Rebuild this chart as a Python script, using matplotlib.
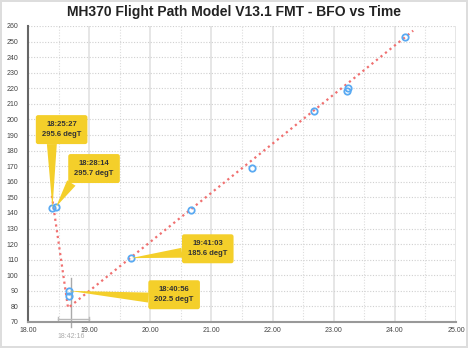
import numpy as np
import matplotlib.pyplot as plt

plt.rcParams["font.family"] = ["Liberation Sans", "DejaVu Sans"]

# BFO observations (hours UTC past midnight of day 1, Hz)
bfo_time = [18.40, 18.46, 18.675, 18.665, 19.684, 20.66, 21.67, 22.67, 23.23, 23.225, 24.17]
bfo_value = [143, 144, 90, 87, 111, 142, 169, 205.5, 220, 218, 253]

# FMT model trend line
model_time = [18.39, 18.655, 24.30]
model_bfo = [151, 79, 257]

# 18:42:16 marker
marker_time = 18.70
marker_label = "18:42:16"
marker_span = [18.49, 19.0]

# callouts: (text, point x, point y, box x, box y, relpos)
callouts = [
    ("18:25:27\n295.6 degT", 18.40, 143, 18.55, 193.5, (0.25, 0.05)),
    ("18:28:14\n295.7 degT", 18.46, 144, 19.08, 168.5, (0.05, 0.1)),
    ("19:41:03\n185.6 degT", 19.684, 111, 20.94, 117, (0.0, 0.3)),
    ("18:40:56\n202.5 degT", 18.675, 90, 20.39, 87.5, (0.0, 0.3)),
]

fig = plt.figure(figsize=(4.68, 3.48), dpi=100)
fig.patch.set_edgecolor("#dddddd")
fig.patch.set_linewidth(1.5)
ax = fig.add_axes([28 / 468, 26 / 348, 428 / 468, 296 / 348])

ax.set_xlim(18, 25)
ax.set_ylim(70, 260)
ax.set_xticks(np.arange(18, 25.01, 1))
ax.set_xticks(np.arange(18.5, 25, 1), minor=True)
ax.set_yticks(np.arange(70, 261, 10))
ax.set_xticklabels([f"{v:.2f}" for v in np.arange(18, 25.01, 1)])

ax.grid(True, axis="x", which="major", color="#e2e2e2", lw=1.2, ls="-")
ax.grid(True, axis="x", which="minor", color="#dddddd", lw=0.8, ls=(0, (1, 1.5)))
ax.grid(True, axis="y", which="major", color="#d0d0d0", lw=0.8, ls=(0, (1, 1.5)))
ax.set_axisbelow(True)

for side in ["top", "right"]:
    ax.spines[side].set_visible(False)
ax.spines["left"].set_color("#666666")
ax.spines["left"].set_linewidth(1.5)
ax.spines["bottom"].set_color("#999999")
ax.spines["bottom"].set_linewidth(1.5)
ax.tick_params(axis="both", which="both", length=0, labelsize=5, colors="#444444")
ax.tick_params(axis="y", pad=7)
ax.tick_params(axis="x", pad=3.5)

# model line
ax.plot(model_time, model_bfo, color="#f07070", lw=1.6, ls=(0, (1, 1.6)), zorder=2)

# 18:42:16 marker
ax.plot([marker_time, marker_time], [98, 67], color="#aaaaaa", lw=1, clip_on=False, zorder=1)
ax.plot(marker_span, [72, 72], color="#bbbbbb", lw=1, zorder=1)
for xv in marker_span:
    ax.plot([xv, xv], [70.5, 73.5], color="#bbbbbb", lw=1, zorder=1)
ax.text(marker_time, 60.5, marker_label, ha="center", va="center",
        fontsize=5, color="#aaaaaa")

# observations
ax.plot(bfo_time, bfo_value, ls="none", marker="o", ms=4.6, mfc="none",
        mec="#5aaaf2", mew=1.3, zorder=3)

for text, px, py, bx, by, rp in callouts:
    ax.annotate(text, xy=(px, py), xytext=(bx, by), ha="center", va="center",
                fontsize=5.5, fontweight="bold", color="#333333", linespacing=1.55,
                bbox=dict(boxstyle="round,pad=0.8,rounding_size=0.3",
                          fc="#f4cf2a", ec="none"),
                arrowprops=dict(arrowstyle="wedge,tail_width=1.3,shrink_factor=0.5",
                                fc="#f4cf2a", ec="none", relpos=rp,
                                shrinkA=0, shrinkB=0),
                zorder=4)

fig.text(0.5, 1 - 12 / 348, "MH370 Flight Path Model V13.1 FMT - BFO vs Time",
         ha="center", va="center", fontsize=10, fontweight="bold", color="#222222")

fig.savefig("out.png", dpi=100)
